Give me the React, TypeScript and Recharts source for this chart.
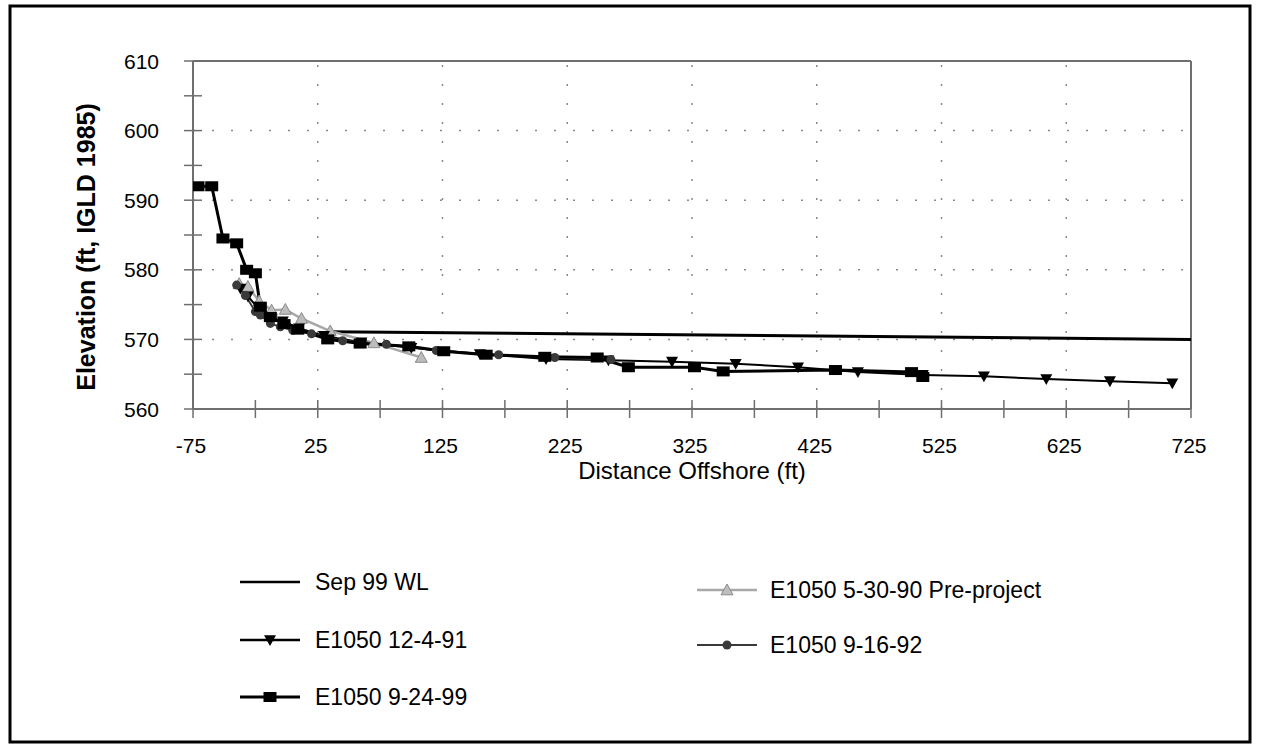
import React from 'react';
import { LineChart, Line, XAxis, YAxis, ReferenceLine } from 'recharts';

const FONT = '"Liberation Sans", Arial, Helvetica, sans-serif';

// Tick values
const xTicks = [-75, -25, 25, 75, 125, 175, 225, 275, 325, 375, 425, 475, 525, 575, 625, 675, 725];
const xLabels = [-75, 25, 125, 225, 325, 425, 525, 625, 725];
const yTicks = [560, 565, 570, 575, 580, 585, 590, 595, 600, 605, 610];
const yLabels = [560, 570, 580, 590, 600, 610];
const gridX = [25, 125, 225, 325, 425, 525, 625];
const gridY = [570, 580, 590, 600];

// Sep 99 WL
const wlX = [33, 725];
const wlY = [571.1, 570.0];

// E1050 5-30-90 Pre-project
const preX = [-38, -31, -22, -12, -1, 12, 35, 70, 108];
const preY = [578.0, 577.6, 575.5, 574.2, 574.3, 573.0, 571.2, 569.5, 567.4];

// E1050 12-4-91
const d91X = [-37, -31, -22, -13, -3, 10, 30, 60, 100, 155, 208, 258, 309, 360, 410, 458, 510, 559, 609, 660, 710];
const d91Y = [577.3, 576.2, 574.3, 573.2, 572.6, 571.6, 570.5, 569.6, 568.8, 567.9, 567.2, 567.0, 566.8, 566.5, 566.0, 565.3, 564.9, 564.7, 564.3, 564.0, 563.7];

// E1050 9-16-92
const d92X = [-40, -33, -25, -21, -13, -5, 5, 20, 45, 80, 120, 170, 215, 260];
const d92Y = [577.8, 576.3, 574.0, 573.5, 572.3, 571.8, 571.3, 570.8, 569.8, 569.3, 568.4, 567.8, 567.4, 567.1];

// E1050 9-24-99
const d99X = [-71, -60, -51, -40, -32, -25, -21, -13, -2, 9, 33, 59, 98, 126, 160, 207, 249, 274, 327, 350, 440, 501, 510];
const d99Y = [592, 592, 584.5, 583.8, 580, 579.5, 574.7, 573.2, 572.2, 571.4, 570.0, 569.4, 569.0, 568.3, 567.8, 567.5, 567.4, 566.0, 566.0, 565.4, 565.6, 565.3, 564.6];

const zip = (xs: number[], ys: number[]) => xs.map((x, i) => ({ x, y: ys[i] }));

const wlData = zip(wlX, wlY);
const preData = zip(preX, preY);
const d91Data = zip(d91X, d91Y);
const d92Data = zip(d92X, d92Y);
const d99Data = zip(d99X, d99Y);

const AXIS_COLOR = '#6f6f6f';

const XTick = (props: any) => {
  const { x, y, payload } = props;
  const v = payload.value;
  return (
    <g>
      <line x1={x} x2={x} y1={y - 9} y2={y + 9} stroke={AXIS_COLOR} strokeWidth={1.5} />
      {xLabels.includes(v) && (
        <text x={x - 2} y={y + 44} textAnchor="middle" fontSize={21} fontFamily={FONT} fill="#000">
          {v}
        </text>
      )}
    </g>
  );
};

const YTick = (props: any) => {
  const { x, y, payload } = props;
  const v = payload.value;
  return (
    <g>
      <line x1={x - 9} x2={x + 9} y1={y} y2={y} stroke={AXIS_COLOR} strokeWidth={1.5} />
      {yLabels.includes(v) && (
        <text x={x - 34} y={y} dy="0.36em" textAnchor="end" fontSize={21} fontFamily={FONT} fill="#000">
          {v}
        </text>
      )}
    </g>
  );
};

const triDown = (cx: number, cy: number, s: number) =>
  `M${cx - s},${cy - s * 0.8} L${cx + s},${cy - s * 0.8} L${cx},${cy + s} Z`;
const triUp = (cx: number, cy: number, s: number) =>
  `M${cx - s},${cy + s * 0.8} L${cx + s},${cy + s * 0.8} L${cx},${cy - s} Z`;

const DotDown = (p: any) => <path key={`dd${p.index}`} d={triDown(p.cx, p.cy, 6)} fill="#000" />;
const DotUp = (p: any) => (
  <path key={`du${p.index}`} d={triUp(p.cx, p.cy, 6)} fill="#bdbdbd" stroke="#8a8a8a" strokeWidth={1} />
);
const DotSquare = (p: any) => <rect key={`ds${p.index}`} x={p.cx - 6.5} y={p.cy - 5} width={13} height={10} fill="#000" />;
const DotCircle = (p: any) => <circle key={`dc${p.index}`} cx={p.cx} cy={p.cy} r={4.5} fill="#3a3a3a" />;

const legendText = (x: number, y: number, t: string) => (
  <text x={x} y={y} dy="0.36em" fontSize={23} fontFamily={FONT} fill="#000">
    {t}
  </text>
);

export default function App() {
  return (
    <div style={{ position: 'absolute', left: 0, top: 0, width: 1262, height: 755, background: '#fff' }}>
      <LineChart
        width={1262}
        height={755}
        margin={{ top: 61, right: 71, bottom: 286, left: 93 }}
        style={{ position: 'absolute', left: 0, top: 0 }}
      >
        <XAxis
          type="number"
          dataKey="x"
          domain={[-75, 725]}
          ticks={xTicks}
          interval={0}
          tick={<XTick />}
          tickLine={false}
          tickSize={0}
          tickMargin={0}
          height={60}
          axisLine={{ stroke: AXIS_COLOR, strokeWidth: 2 }}
          allowDataOverflow
        />
        <YAxis
          type="number"
          dataKey="y"
          domain={[560, 610]}
          ticks={yTicks}
          interval={0}
          tick={<YTick />}
          tickLine={false}
          tickSize={0}
          tickMargin={0}
          width={100}
          axisLine={{ stroke: AXIS_COLOR, strokeWidth: 2 }}
          allowDataOverflow
        />
        {gridY.map((v) => (
          <ReferenceLine key={`gy${v}`} y={v} stroke="#8a8a8a" strokeWidth={1.5} strokeDasharray="2 17" />
        ))}
        {gridX.map((v) => (
          <ReferenceLine key={`gx${v}`} x={v} stroke="#8a8a8a" strokeWidth={1.5} strokeDasharray="2 17" />
        ))}
        <ReferenceLine y={610} stroke={AXIS_COLOR} strokeWidth={2} />
        <ReferenceLine x={725} stroke={AXIS_COLOR} strokeWidth={2} />

        <Line data={wlData} dataKey="y" name="Sep 99 WL" stroke="#000" strokeWidth={3} dot={false} isAnimationActive={false} />
        <Line data={preData} dataKey="y" name="E1050 5-30-90 Pre-project" stroke="#a8a8a8" strokeWidth={2.5} dot={DotUp} isAnimationActive={false} />
        <Line data={d91Data} dataKey="y" name="E1050 12-4-91" stroke="#000" strokeWidth={2} dot={DotDown} isAnimationActive={false} />
        <Line data={d92Data} dataKey="y" name="E1050 9-16-92" stroke="#3a3a3a" strokeWidth={2} dot={DotCircle} isAnimationActive={false} />
        <Line data={d99Data} dataKey="y" name="E1050 9-24-99" stroke="#000" strokeWidth={3} dot={DotSquare} isAnimationActive={false} />
      </LineChart>

      <svg width={1262} height={755} style={{ position: 'absolute', left: 0, top: 0, pointerEvents: 'none' }}>
        <rect x={10} y={6} width={1240} height={736} fill="none" stroke="#000" strokeWidth={3} />
        <text
          x={0}
          y={0}
          transform="translate(95,247) rotate(-90)"
          textAnchor="middle"
          fontSize={25}
          fontWeight="bold"
          fontFamily={FONT}
          fill="#000"
        >
          Elevation (ft, IGLD 1985)
        </text>
        <text x={692} y={479} textAnchor="middle" fontSize={24} fontFamily={FONT} fill="#000">
          Distance Offshore (ft)
        </text>

        {/* Left legend column */}
        <line x1={240} x2={300} y1={582} y2={582} stroke="#000" strokeWidth={2.5} />
        {legendText(315, 582, 'Sep 99 WL')}

        <line x1={240} x2={300} y1={640} y2={640} stroke="#000" strokeWidth={2.5} />
        <path d={triDown(270, 640, 6)} fill="#000" />
        {legendText(315, 640, 'E1050 12-4-91')}

        <line x1={240} x2={300} y1={697} y2={697} stroke="#000" strokeWidth={3} />
        <rect x={263.5} y={692} width={13} height={10} fill="#000" />
        {legendText(315, 697, 'E1050 9-24-99')}

        {/* Right legend column */}
        <line x1={697} x2={757} y1={590} y2={590} stroke="#a8a8a8" strokeWidth={2.5} />
        <path d={triUp(727, 590, 6)} fill="#bdbdbd" stroke="#8a8a8a" strokeWidth={1} />
        {legendText(770, 590, 'E1050 5-30-90 Pre-project')}

        <line x1={697} x2={757} y1={645} y2={645} stroke="#3a3a3a" strokeWidth={2} />
        <circle cx={727} cy={645} r={4.5} fill="#3a3a3a" />
        {legendText(770, 645, 'E1050 9-16-92')}
      </svg>
    </div>
  );
}
